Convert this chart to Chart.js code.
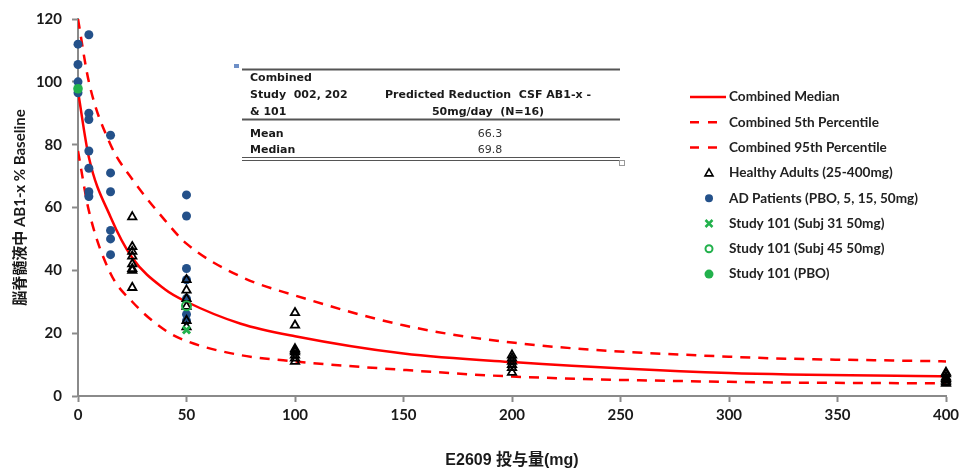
<!DOCTYPE html>
<html>
<head>
<meta charset="utf-8">
<script src="https://cdn.jsdelivr.net/npm/chart.js@4/dist/chart.umd.min.js"></script>
<style>
  html, body { margin: 0; padding: 0; background: #fff; }
  #wrap { width: 959px; height: 470px; }
</style>
</head>
<body>
<div id="wrap"><canvas id="doseChart" width="959" height="470"></canvas></div>
<script>
// model curves (dose mg -> % baseline)
var curveDose = [0, 5, 15, 25, 40, 50, 75, 100, 150, 200, 300, 400];
var medianPct = [97, 76, 57, 44, 34, 30, 23, 19, 13.5, 10.8, 7.3, 6.3];
var p5Pct     = [78, 59, 39, 30, 21, 17.5, 13, 11, 8.3, 6.2, 4.5, 4];
var p95Pct    = [120, 100, 80, 69, 56, 48.5, 38, 32, 22.5, 17, 12.5, 11];

// observed
var healthyDose = [25, 25, 25, 25, 25, 25, 25, 25, 50, 50, 50, 50, 50, 50, 100, 100, 100, 100, 100, 100, 100, 100, 200, 200, 200, 200, 200, 200, 400, 400, 400, 400, 400, 400, 400];
var healthyPct  = [57, 47.5, 46, 44.5, 42, 40.5, 40, 34.5, 37, 33.7, 31, 28.5, 24, 22, 26.5, 22.5, 15, 14.5, 14, 13, 12, 11, 13, 12, 11, 10, 9, 7.5, 7.5, 7, 6, 5.5, 5, 4.5, 4];
var adDose = [0, 0, 0, 0, 5, 5, 5, 5, 5, 5, 5, 15, 15, 15, 15, 15, 15, 50, 50, 50, 50, 50, 50, 50];
var adPct  = [112, 105.5, 100, 96.5, 115, 90, 88, 78, 72.5, 65, 63.5, 83, 71, 65, 52.7, 50, 45, 64, 57.3, 40.6, 37, 31, 26, 24];
var subj31Dose = [50];
var subj31Pct = [21];
var subj45Dose = [50];
var subj45Pct = [28.7];
var pboDose = [0];
var pboPct = [97.8];

var xTicks = [0, 50, 100, 150, 200, 250, 300, 350, 400];
var yTicks = [0, 20, 40, 60, 80, 100, 120];

var tableHead = ["Combined", "Study  002, 202", "& 101"];
var tableHeadRight = ["Predicted Reduction  CSF AB1-x -", "50mg/day  (N=16)"];
var tableRows = ["Mean", "Median"];
var tableVals = ["66.3", "69.8"];

var legendNames = [
  "Combined Median",
  "Combined 5th Percentile",
  "Combined 95th Percentile",
  "Healthy Adults (25-400mg)",
  "AD Patients (PBO, 5, 15, 50mg)",
  "Study 101 (Subj 31 50mg)",
  "Study 101 (Subj 45 50mg)",
  "Study 101 (PBO)"
];

var RED = "#ff0000";
var BLUE = "#24518a";
var GREEN = "#22b14c";
var AXIS = "#8a8a8a";

function pts(xs, ys) {
  return xs.map(function (x, i) { return { x: x, y: ys[i] }; });
}

var tablePlugin = {
  id: "tableAndLegend",
  afterDraw: function (chart) {
    var ctx = chart.ctx;
    ctx.save();
    // table
    ctx.strokeStyle = "#555";
    ctx.lineWidth = 2;
    ctx.beginPath();
    ctx.moveTo(242, 69.5); ctx.lineTo(620, 69.5);
    ctx.moveTo(242, 119.5); ctx.lineTo(620, 119.5);
    ctx.stroke();
    ctx.lineWidth = 1;
    ctx.beginPath();
    ctx.moveTo(242, 157.5); ctx.lineTo(620, 157.5);
    ctx.moveTo(242, 160.5); ctx.lineTo(620, 160.5);
    ctx.stroke();
    // little handles
    ctx.fillStyle = "#6d8fc7";
    ctx.fillRect(234, 64, 5, 4);
    ctx.strokeStyle = "#999";
    ctx.fillStyle = "#fff";
    ctx.fillRect(619.5, 160.5, 5, 5);
    ctx.strokeRect(619.5, 160.5, 5, 5);

    ctx.fillStyle = "#1a1a1a";
    ctx.textBaseline = "middle";
    ctx.font = "bold 11px 'DejaVu Sans'";
    ctx.textAlign = "left";
    var hy = [78, 95, 112];
    tableHead.forEach(function (t, i) { ctx.fillText(t, 250, hy[i]); });
    ctx.textAlign = "center";
    ctx.fillText(tableHeadRight[0], 488, 95);
    ctx.fillText(tableHeadRight[1], 488, 112);
    ctx.textAlign = "left";
    var ry = [134, 150];
    tableRows.forEach(function (t, i) { ctx.fillText(t, 250, ry[i]); });
    ctx.font = "11px 'DejaVu Sans'";
    ctx.fillStyle = "#333";
    ctx.textAlign = "center";
    tableVals.forEach(function (t, i) { ctx.fillText(t, 490, ry[i]); });

    // legend
    var lx = 690, mx = 709, tx = 729, y0 = 97, dy = 25.3;
    ctx.font = "bold 13.6px Lato";
    ctx.textAlign = "left";
    legendNames.forEach(function (name, i) {
      var y = y0 + i * dy;
      ctx.fillStyle = "#222";
      ctx.fillText(name, tx, y);
      ctx.lineWidth = 2.5;
      ctx.strokeStyle = RED;
      if (i === 0) {
        ctx.setLineDash([]);
        ctx.beginPath(); ctx.moveTo(lx, y); ctx.lineTo(lx + 36, y); ctx.stroke();
      } else if (i < 3) {
        ctx.setLineDash([9, 9]);
        ctx.beginPath(); ctx.moveTo(lx, y); ctx.lineTo(lx + 28, y); ctx.stroke();
        ctx.setLineDash([]);
      } else if (i === 3) {
        ctx.strokeStyle = "#000"; ctx.lineWidth = 1.6;
        ctx.beginPath();
        ctx.moveTo(mx, y - 4); ctx.lineTo(mx + 4, y + 3); ctx.lineTo(mx - 4, y + 3); ctx.closePath();
        ctx.stroke();
      } else if (i === 4) {
        ctx.fillStyle = BLUE;
        ctx.beginPath(); ctx.arc(mx, y, 4, 0, Math.PI * 2); ctx.fill();
      } else if (i === 5) {
        ctx.strokeStyle = GREEN; ctx.lineWidth = 2.5;
        ctx.beginPath();
        ctx.moveTo(mx - 3.5, y - 3.5); ctx.lineTo(mx + 3.5, y + 3.5);
        ctx.moveTo(mx + 3.5, y - 3.5); ctx.lineTo(mx - 3.5, y + 3.5);
        ctx.stroke();
      } else if (i === 6) {
        ctx.strokeStyle = GREEN; ctx.lineWidth = 2;
        ctx.beginPath(); ctx.arc(mx, y, 3.5, 0, Math.PI * 2); ctx.stroke();
      } else {
        ctx.fillStyle = GREEN;
        ctx.beginPath(); ctx.arc(mx, y, 4.5, 0, Math.PI * 2); ctx.fill();
      }
    });
    ctx.restore();
  }
};

var ctx = document.getElementById("doseChart").getContext("2d");
var doseChart = new Chart(ctx, {
  type: "scatter",
  data: {
    datasets: [
      {
        label: legendNames[0],
        data: pts(curveDose, medianPct),
        showLine: true,
        borderColor: RED,
        borderWidth: 2.5,
        pointRadius: 0,
        cubicInterpolationMode: "monotone",
        order: 2
      },
      {
        label: legendNames[1],
        data: pts(curveDose, p5Pct),
        showLine: true,
        borderColor: RED,
        borderWidth: 2.5,
        borderDash: [10, 8],
        pointRadius: 0,
        cubicInterpolationMode: "monotone",
        order: 2
      },
      {
        label: legendNames[2],
        data: pts(curveDose, p95Pct),
        showLine: true,
        borderColor: RED,
        borderWidth: 2.5,
        borderDash: [10, 8],
        pointRadius: 0,
        cubicInterpolationMode: "monotone",
        order: 2
      },
      {
        label: legendNames[3],
        data: pts(healthyDose, healthyPct),
        pointStyle: "triangle",
        pointRadius: 4.8,
        borderColor: "#000",
        borderWidth: 1.8,
        backgroundColor: "rgba(255,255,255,0)",
        clip: false,
        order: 1
      },
      {
        label: legendNames[4],
        data: pts(adDose, adPct),
        pointStyle: "circle",
        pointRadius: 4.5,
        borderWidth: 0,
        backgroundColor: BLUE,
        borderColor: BLUE,
        clip: false,
        order: 1
      },
      {
        label: legendNames[5],
        data: pts(subj31Dose, subj31Pct),
        pointStyle: "crossRot",
        pointRadius: 5,
        borderWidth: 3,
        borderColor: GREEN,
        clip: false,
        order: 0
      },
      {
        label: legendNames[6],
        data: pts(subj45Dose, subj45Pct),
        pointStyle: "circle",
        pointRadius: 4.5,
        borderWidth: 2,
        borderColor: GREEN,
        backgroundColor: "rgba(255,255,255,0)",
        clip: false,
        order: 0
      },
      {
        label: legendNames[7],
        data: pts(pboDose, pboPct),
        pointStyle: "circle",
        pointRadius: 4.8,
        borderWidth: 0,
        backgroundColor: GREEN,
        clip: false,
        order: 0
      }
    ]
  },
  options: {
    responsive: false,
    animation: false,
    layout: {
      padding: { top: 18, right: 13, left: 0, bottom: 0 }
    },
    plugins: {
      legend: { display: false },
      tooltip: { enabled: false }
    },
    scales: {
      x: {
        type: "linear",
        min: 0,
        max: 400,
        afterBuildTicks: function (scale) {
          scale.ticks = xTicks.map(function (v) { return { value: v }; });
        },
        afterFit: function (scale) {
          scale.height = 74;
          scale.paddingLeft = 0;
          scale.paddingRight = 13;
        },
        ticks: {
          color: "#1a1a1a",
          font: { family: "Lato", size: 15, weight: "bold" },
          padding: 4,
          maxRotation: 0
        },
        grid: {
          drawOnChartArea: false,
          tickLength: 6,
          tickColor: AXIS,
          tickWidth: 2
        },
        border: { color: AXIS, width: 2 },
        title: {
          display: true,
          text: "E2609 投与量(mg)",
          color: "#1a1a1a",
          font: { family: "'Liberation Sans', 'Noto Sans CJK JP'", size: 16, weight: "bold" },
          padding: { top: 0, bottom: 0 }
        }
      },
      y: {
        min: 0,
        max: 120,
        afterBuildTicks: function (scale) {
          scale.ticks = yTicks.map(function (v) { return { value: v }; });
        },
        afterFit: function (scale) { scale.width = 78; },
        ticks: {
          color: "#1a1a1a",
          font: { family: "Lato", size: 15, weight: "bold" },
          padding: 10
        },
        grid: {
          drawOnChartArea: false,
          tickLength: 6,
          tickColor: AXIS,
          tickWidth: 2
        },
        border: { color: AXIS, width: 2 },
        title: {
          display: true,
          text: "脳脊髄液中 AB1-x % Baseline",
          color: "#1a1a1a",
          font: { family: "Lato, 'Noto Sans CJK JP'", size: 15, weight: "bold" },
          padding: { top: 11, bottom: 0 }
        }
      }
    }
  },
  plugins: [tablePlugin]
});
</script>
</body>
</html>
